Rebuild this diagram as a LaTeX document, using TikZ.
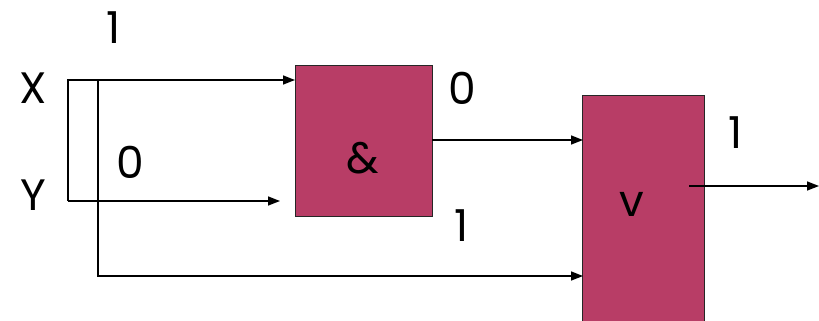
\documentclass[tikz,border=0pt]{standalone}
\usepackage{fontspec}
\setmainfont{Poppins}
\usetikzlibrary{arrows.meta}
\definecolor{gatefill}{HTML}{B83D66}
\begin{document}
\begin{tikzpicture}[x=1pt,y=-1pt,
  gate/.style={draw=black!85,line width=1.2pt,fill=gatefill,inner sep=0pt,anchor=north west},
  lbl/.style={font=\fontsize{44}{44}\selectfont,inner sep=0pt},
  wire/.style={line width=1.6pt},
  arr/.style={wire,-{Triangle[length=12pt,width=9pt]}}]
\useasboundingbox (0,0) rectangle (819,321);
\clip (0,0) rectangle (819,321);
% gates
\node[gate,minimum width=137pt,minimum height=151pt] (and) at (295,65) {};
\node[lbl] at (363,158) {\&};
\node[gate,minimum width=122pt,minimum height=270pt] (or) at (582,95) {};
\node[lbl] at (632,204) {v};
% labels
\node[lbl] (lX) at (33,88) {X};
\node[lbl] (lY) at (33,195) {Y};
\node[lbl] (l1a) at (114,28) {1};
\node[lbl] (l0a) at (130,162) {0};
\node[lbl] (l0b) at (462,88) {0};
\node[lbl] (l1b) at (462,226) {1};
\node[lbl] (l1c) at (736,133) {1};
% coordinates
\coordinate (xs) at (68,80);
\coordinate (ys) at (68,201);
\coordinate (br) at (98,80);
\coordinate (bc) at (98,276);
\coordinate (andin1) at (295,80);
\coordinate (andin2) at (280,201);
\coordinate (andout) at (432,140);
\coordinate (orin1) at (583,140);
\coordinate (orin2) at (583,276);
\coordinate (orout) at (689,186);
\coordinate (outend) at (819,186);
% wires
\draw[arr] (ys) -- (xs) -- (andin1);
\draw[arr] (ys) -- (andin2);
\draw[arr] (br) -- (bc) -- (orin2);
\draw[arr] (andout) -- (orin1);
\draw[arr] (orout) -- (outend);
\end{tikzpicture}
\end{document}
